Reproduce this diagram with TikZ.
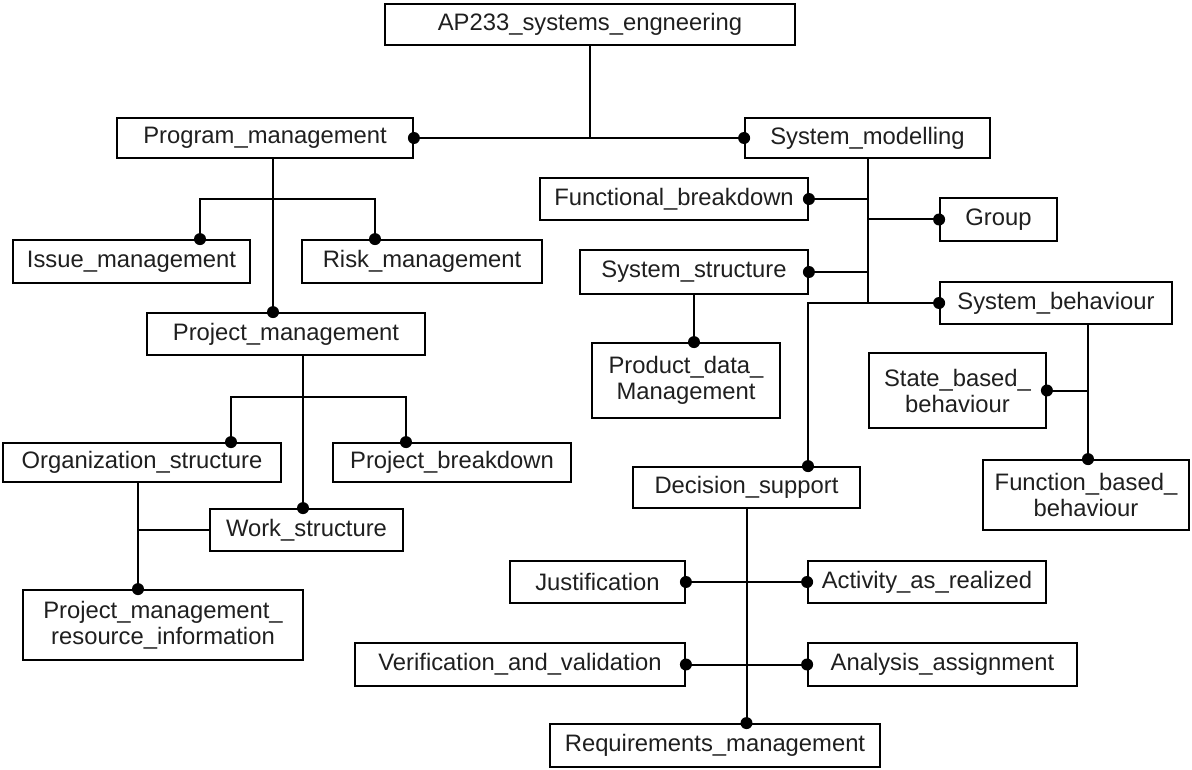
\documentclass[tikz,border=0pt]{standalone}
\usepackage{fontspec}
\setmainfont{Liberation Sans}
\begin{document}
\begin{tikzpicture}[x=1pt,y=-1pt,
  box/.style={draw, line width=1.8pt, inner sep=0pt, align=center,
    font=\fontsize{23.8}{26}\selectfont, text=black!88},
  link/.style={line width=2pt},
  knob/.style={fill=black}]
\useasboundingbox (0,0) rectangle (1192,770);
\fill[white] (0,0) rectangle (1192,770);

% boxes: centre, then width and height
\newcommand\unit[5]{\node[box, minimum width=#3pt, minimum height=#4pt] (#1) at (#2) {#5};}
\unit{ap}{590,24.5}{410}{41}{AP233\_systems\_engneering}
\unit{pm}{265,138}{296}{40}{Program\_management}
\unit{sm}{867.5,138}{245}{40}{System\_modelling}
\unit{fb}{674,199}{268}{42}{Functional\_breakdown}
\unit{grp}{998.5,219.5}{117}{43}{Group}
\unit{iss}{131.5,261.5}{237}{43}{Issue\_management}
\unit{risk}{422,261.5}{240}{43}{Risk\_management}
\unit{ss}{694,272}{228}{44}{System\_structure}
\unit{sb}{1056,303}{232}{42}{System\_behaviour}
\unit{prj}{286,334}{278}{42}{Project\_management}
\unit{pdm}{686,380.5}{188}{75}{Product\_data\_\\Management}
\unit{sbb}{957.5,390.5}{177}{75}{State\_based\_\\behaviour}
\unit{org}{142,462.5}{278}{39}{Organization\_structure}
\unit{pbd}{452,462.5}{238}{39}{Project\_breakdown}
\unit{ds}{746.5,487.5}{227}{41}{Decision\_support}
\unit{fbb}{1086,495}{206}{70}{Function\_based\_\\behaviour}
\unit{ws}{306.5,530}{193}{42}{Work\_structure}
\unit{jus}{597.5,582}{175}{42}{Justification}
\unit{aar}{927,582}{238}{42}{Activity\_as\_realized}
\unit{pmri}{163,625}{280}{70}{Project\_management\_\\resource\_information}
\unit{vv}{520,664.5}{330}{43}{Verification\_and\_validation}
\unit{aa}{942.5,664.5}{269}{43}{Analysis\_assignment}
\unit{rm}{715,745.5}{330}{43}{Requirements\_management}

\newcommand\knobat[1]{\fill[knob] #1 circle (6);}

% top level
\draw[link] (ap.south) -- (ap.south |- pm.east);
\draw[link] (pm.east) -- (sm.west);
\knobat{(pm.east)} \knobat{(sm.west)}

% program management
\draw[link] ([xshift=8pt]pm.south) coordinate (pmx) -- (pmx |- prj.north);
\knobat{(pmx |- prj.north)}
\coordinate (issx) at ([xshift=68.5pt]iss.north);
\coordinate (riskx) at ([xshift=-47pt]risk.north);
\draw[link] (issx) -- ++(0,-40) coordinate (brA) -- (brA -| riskx) -- (riskx);
\knobat{(issx)} \knobat{(riskx)}

% project management
\draw[link] ([xshift=17pt]prj.south) coordinate (prjx) -- (prjx |- ws.north);
\knobat{(prjx |- ws.north)}
\coordinate (orgx) at ([xshift=89pt]org.north);
\coordinate (pbdx) at ([xshift=-46pt]pbd.north);
\draw[link] (orgx) -- ++(0,-45) coordinate (brB) -- (brB -| pbdx) -- (pbdx);
\knobat{(orgx)} \knobat{(pbdx)}
\draw[link] ([xshift=-4pt]org.south) coordinate (orgy) -- (orgy |- pmri.north);
\knobat{(orgy |- pmri.north)}
\draw[link] (ws.west) -- (ws.west -| orgy);

% system modelling
\draw[link] (sm.south) -- (sm.south |- sb.west);
\draw[link] (fb.east) -- (fb.east -| sm.south);
\draw[link] (grp.west) -- (grp.west -| sm.south);
\draw[link] (ss.east) -- (ss.east -| sm.south);
\coordinate (dsx) at ([xshift=61.5pt]ds.north);
\draw[link] (sb.west) -- (sb.west -| dsx) -- (dsx);
\knobat{(fb.east)} \knobat{(grp.west)} \knobat{(ss.east)} \knobat{(sb.west)} \knobat{(dsx)}
\draw[link] (ss.south) -- (ss.south |- pdm.north);
\knobat{(ss.south |- pdm.north)}

% system behaviour
\draw[link] ([xshift=32pt]sb.south) coordinate (sbx) -- (sbx |- fbb.north);
\knobat{(sbx |- fbb.north)}
\draw[link] (sbb.east) -- (sbb.east -| sbx);
\knobat{(sbb.east)}

% decision support
\draw[link] (ds.south) -- (ds.south |- rm.north);
\knobat{(ds.south |- rm.north)}
\draw[link] (jus.east) -- (aar.west);
\knobat{(jus.east)} \knobat{(aar.west)}
\draw[link] (vv.east) -- (aa.west);
\knobat{(vv.east)} \knobat{(aa.west)}
\end{tikzpicture}
\end{document}
